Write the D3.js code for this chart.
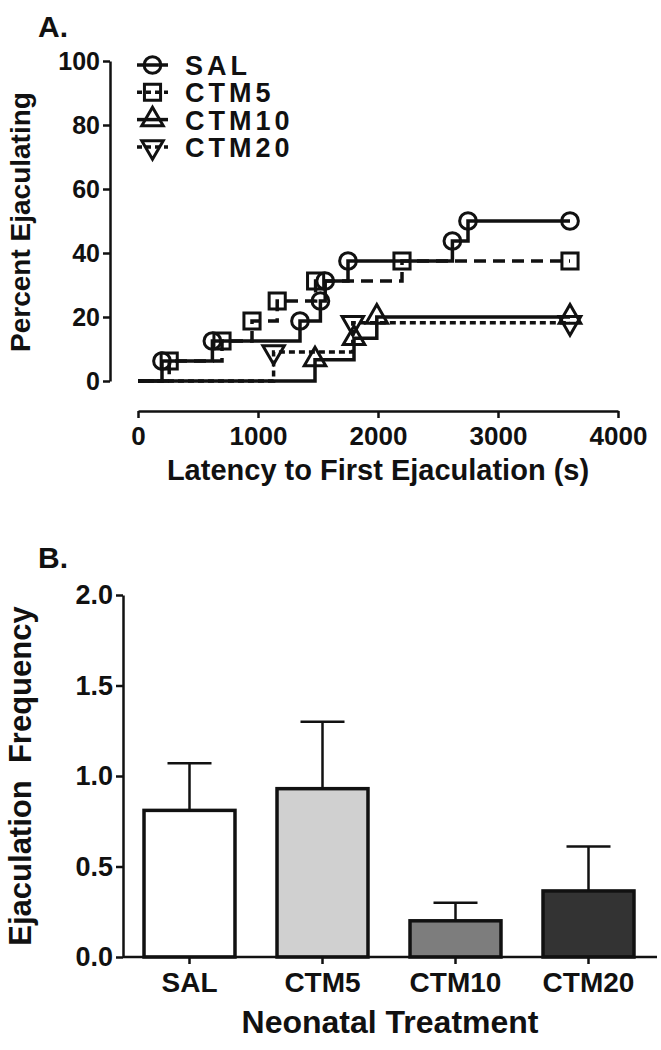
<!DOCTYPE html>
<html>
<head>
<meta charset="utf-8">
<script src="https://cdn.jsdelivr.net/npm/d3@7"></script>
<style>
  html, body { margin: 0; padding: 0; background: #fff; }
  text { font-family: 'Liberation Sans', Arial, Helvetica, sans-serif; font-weight: bold; fill: #111; }
</style>
</head>
<body>
<svg id="chart" width="661" height="1050"></svg>
<script>
// ---------- Panel A data (cumulative percent ejaculating) ----------
const seriesNames = ["SAL", "CTM5", "CTM10", "CTM20"];
const salTimes   = [200, 620, 1350, 1520, 1560, 1750, 2620, 2750, 3600];
const salPct     = [6.25, 12.5, 18.75, 25, 31.25, 37.5, 43.75, 50, 50];
const ctm5Times  = [260, 700, 950, 1160, 1480, 2200, 3600];
const ctm5Pct    = [6.25, 12.5, 18.75, 25, 31.25, 37.5, 37.5];
const ctm10Times = [1475, 1800, 1990, 3600];
const ctm10Pct   = [6.67, 13.33, 20, 20];
const ctm20Times = [1130, 1790, 3600];
const ctm20Pct   = [9.09, 18.18, 18.18];
const xTicksA = [0, 1000, 2000, 3000, 4000];
const yTicksA = [0, 20, 40, 60, 80, 100];

// ---------- Panel B data ----------
const treatments = ["SAL", "CTM5", "CTM10", "CTM20"];
const freqMean   = [0.81, 0.93, 0.20, 0.365];
const freqSem    = [0.26, 0.37, 0.10, 0.245];
const barFills   = ["#ffffff", "#d0d0d0", "#7d7d7d", "#333333"];
const yTicksB = [0, 0.5, 1.0, 1.5, 2.0];

const svg = d3.select("#chart");
const INK = "#111";

// ================= Panel A =================
const xA = d3.scaleLinear().domain([0, 4000]).range([138, 618]);
const yA = d3.scaleLinear().domain([0, 100]).range([381, 61]);

svg.append("text").attr("x", 38).attr("y", 37).style("font-size", "30px").text("A.");

const gAy = svg.append("g").attr("transform", "translate(110,0)")
  .call(d3.axisLeft(yA).tickValues(yTicksA).tickSize(7).tickPadding(3).tickSizeOuter(0));
const gAx = svg.append("g").attr("transform", "translate(0,411)")
  .call(d3.axisBottom(xA).tickValues(xTicksA).tickSize(7).tickPadding(9).tickSizeOuter(0).tickFormat(d3.format("d")));

[gAy, gAx].forEach(g => {
  g.select(".domain").attr("stroke", INK).attr("stroke-width", 2.5);
  g.selectAll(".tick line").attr("stroke", INK).attr("stroke-width", 2.5);
  g.selectAll(".tick text").attr("fill", INK).style("font-size", "25px")
   .style("font-family", "'Liberation Sans', Arial, sans-serif").style("font-weight", "bold");
});
gAx.selectAll(".tick text").style("font-size", "26px");

svg.append("text").attr("x", 378).attr("y", 480).attr("text-anchor", "middle")
  .style("font-size", "29px").text("Latency to First Ejaculation (s)");
svg.append("text").attr("transform", "translate(30,222) rotate(-90)").attr("text-anchor", "middle")
  .style("font-size", "28px").text("Percent Ejaculating");

const seriesA = [
  { name: "SAL",   t: salTimes,   p: salPct,   dash: null,     sym: d3.symbolCircle,   rot: 0,   size: 220 },
  { name: "CTM5",  t: ctm5Times,  p: ctm5Pct,  dash: "12,7",   sym: d3.symbolSquare,   rot: 0,   size: 260 },
  { name: "CTM10", t: ctm10Times, p: ctm10Pct, dash: null,     sym: d3.symbolTriangle, rot: 0,   size: 200 },
  { name: "CTM20", t: ctm20Times, p: ctm20Pct, dash: "6,4",    sym: d3.symbolTriangle, rot: 180, size: 200 }
];

const stepLine = d3.line().x(d => xA(d[0])).y(d => yA(d[1])).curve(d3.curveStepAfter);

seriesA.forEach(s => {
  const pts = [[0, 0]].concat(s.t.map((t, i) => [t, s.p[i]]));
  svg.append("path").attr("d", stepLine(pts)).attr("fill", "none")
    .attr("stroke", INK).attr("stroke-width", 3.5)
    .attr("stroke-dasharray", s.dash);
});
seriesA.forEach(s => {
  const sym = d3.symbol().type(s.sym).size(s.size);
  svg.append("g").selectAll("path").data(s.t.map((t, i) => [t, s.p[i]])).join("path")
    .attr("d", sym)
    .attr("transform", d => `translate(${xA(d[0])},${yA(d[1])}) rotate(${s.rot})`)
    .attr("fill", "none").attr("stroke", INK).attr("stroke-width", 3);
});

// Legend
const legY = d => 65 + d * 27.3;
seriesA.forEach((s, i) => {
  const y = legY(i);
  svg.append("line").attr("x1", 137).attr("x2", 168).attr("y1", y).attr("y2", y)
    .attr("stroke", INK).attr("stroke-width", 3.5).attr("stroke-dasharray", s.dash ? "5,4" : null);
  svg.append("path").attr("d", d3.symbol().type(s.sym).size(s.size)())
    .attr("transform", `translate(152.5,${y}) rotate(${s.rot})`)
    .attr("fill", "none").attr("stroke", INK).attr("stroke-width", 3);
  svg.append("text").attr("x", 185).attr("y", y + 10).style("font-size", "27px")
    .style("letter-spacing", "4px").text(s.name);
});

// ================= Panel B =================
const xB = d3.scaleBand().domain(treatments).range([123, 655]).paddingInner(0.316).paddingOuter(0.158);
const yB = d3.scaleLinear().domain([0, 2]).range([957, 595]);

svg.append("text").attr("x", 38).attr("y", 568).style("font-size", "30px").text("B.");

const bars = treatments.map((t, i) => ({ t, m: freqMean[i], e: freqSem[i], f: barFills[i] }));

svg.append("g").selectAll("rect").data(bars).join("rect")
  .attr("x", d => xB(d.t)).attr("width", xB.bandwidth())
  .attr("y", d => yB(d.m)).attr("height", d => yB(0) - yB(d.m))
  .attr("fill", d => d.f).attr("stroke", INK).attr("stroke-width", 3.5);

const eb = svg.append("g").selectAll("g").data(bars).join("g");
eb.append("line")
  .attr("x1", d => xB(d.t) + xB.bandwidth() / 2).attr("x2", d => xB(d.t) + xB.bandwidth() / 2)
  .attr("y1", d => yB(d.m)).attr("y2", d => yB(d.m + d.e))
  .attr("stroke", INK).attr("stroke-width", 2.5);
eb.append("line")
  .attr("x1", d => xB(d.t) + xB.bandwidth() / 2 - 22).attr("x2", d => xB(d.t) + xB.bandwidth() / 2 + 22)
  .attr("y1", d => yB(d.m + d.e)).attr("y2", d => yB(d.m + d.e))
  .attr("stroke", INK).attr("stroke-width", 2.5);

const gBy = svg.append("g").attr("transform", "translate(123,0)")
  .call(d3.axisLeft(yB).tickValues(yTicksB).tickSize(7).tickPadding(3).tickSizeOuter(0).tickFormat(d3.format(".1f")));
const gBx = svg.append("g").attr("transform", "translate(0,957)")
  .call(d3.axisBottom(xB).tickSize(7).tickPadding(8).tickSizeOuter(0));
gBx.select(".domain").attr("d", "M123,0H657");

[gBy, gBx].forEach(g => {
  g.select(".domain").attr("stroke", INK).attr("stroke-width", 2.5);
  g.selectAll(".tick line").attr("stroke", INK).attr("stroke-width", 2.5);
  g.selectAll(".tick text").attr("fill", INK).style("font-size", "27px")
   .style("font-family", "'Liberation Sans', Arial, sans-serif").style("font-weight", "bold");
});
gBx.selectAll(".tick text").style("font-size", "28px");

svg.append("text").attr("x", 390).attr("y", 1033).attr("text-anchor", "middle")
  .style("font-size", "32px").text("Neonatal Treatment");
svg.append("text").attr("transform", "translate(31,776) rotate(-90)").attr("text-anchor", "middle")
  .style("font-size", "31px").style("white-space", "pre").text("Ejaculation  Frequency");
</script>
</body>
</html>
